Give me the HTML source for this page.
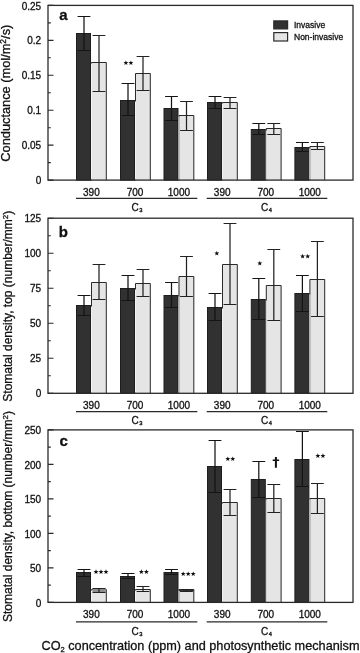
<!DOCTYPE html>
<html><head><meta charset="utf-8"><style>
html,body{margin:0;padding:0;background:#fff;}
svg{display:block;font-family:"Liberation Sans", sans-serif;will-change:transform;}
text{fill:#111;stroke:#111;stroke-width:0.3px;}
</style></head><body>
<svg width="360" height="653" viewBox="0 0 360 653">
<rect width="360" height="653" fill="#fff"/>
<rect x="91.00" y="62.00" width="15.80" height="118.10" fill="#e5e5e5"/>
<path d="M91.50 180.10V62.50H106.30V180.10" fill="none" stroke="#2a2a2a" stroke-width="1"/>
<rect x="76.50" y="33.50" width="14" height="146.60" fill="#313131" stroke="#1e1e1e" stroke-width="1"/>
<rect x="91.00" y="63.50" width="1" height="116.10" fill="#f2f2f2"/>
<path d="M84.00 16.50V50.50" stroke="#141414" stroke-width="1.25" fill="none"/>
<path d="M77.60 16.50H90.40M77.60 50.50H90.40" stroke="#141414" stroke-width="1" fill="none"/>
<path d="M99.00 35.50V91.50" stroke="#222" stroke-width="1.25" fill="none"/>
<path d="M92.60 35.50H105.40M92.60 91.50H105.40" stroke="#222" stroke-width="1" fill="none"/>
<rect x="135.00" y="73.00" width="15.80" height="107.10" fill="#e5e5e5"/>
<path d="M135.50 180.10V73.50H150.30V180.10" fill="none" stroke="#2a2a2a" stroke-width="1"/>
<rect x="120.50" y="100.50" width="14" height="79.60" fill="#313131" stroke="#1e1e1e" stroke-width="1"/>
<rect x="135.00" y="101.50" width="1" height="78.10" fill="#f2f2f2"/>
<path d="M128.00 83.50V115.50" stroke="#141414" stroke-width="1.25" fill="none"/>
<path d="M121.60 83.50H134.40M121.60 115.50H134.40" stroke="#141414" stroke-width="1" fill="none"/>
<path d="M143.00 56.50V90.50" stroke="#222" stroke-width="1.25" fill="none"/>
<path d="M136.60 56.50H149.40M136.60 90.50H149.40" stroke="#222" stroke-width="1" fill="none"/>
<rect x="178.50" y="115.00" width="15.80" height="65.10" fill="#e5e5e5"/>
<path d="M179.00 180.10V115.50H193.80V180.10" fill="none" stroke="#2a2a2a" stroke-width="1"/>
<rect x="164.00" y="108.50" width="14" height="71.60" fill="#313131" stroke="#1e1e1e" stroke-width="1"/>
<rect x="178.50" y="116.50" width="1" height="63.10" fill="#f2f2f2"/>
<path d="M171.50 96.50V120.50" stroke="#141414" stroke-width="1.25" fill="none"/>
<path d="M165.10 96.50H177.90M165.10 120.50H177.90" stroke="#141414" stroke-width="1" fill="none"/>
<path d="M186.50 101.50V130.50" stroke="#222" stroke-width="1.25" fill="none"/>
<path d="M180.10 101.50H192.90M180.10 130.50H192.90" stroke="#222" stroke-width="1" fill="none"/>
<rect x="222.00" y="102.00" width="15.80" height="78.10" fill="#e5e5e5"/>
<path d="M222.50 180.10V102.50H237.30V180.10" fill="none" stroke="#2a2a2a" stroke-width="1"/>
<rect x="207.50" y="102.50" width="14" height="77.60" fill="#313131" stroke="#1e1e1e" stroke-width="1"/>
<rect x="222.00" y="103.50" width="1" height="76.10" fill="#f2f2f2"/>
<path d="M215.00 96.50V108.50" stroke="#141414" stroke-width="1.25" fill="none"/>
<path d="M208.60 96.50H221.40M208.60 108.50H221.40" stroke="#141414" stroke-width="1" fill="none"/>
<path d="M230.00 97.50V108.50" stroke="#222" stroke-width="1.25" fill="none"/>
<path d="M223.60 97.50H236.40M223.60 108.50H236.40" stroke="#222" stroke-width="1" fill="none"/>
<rect x="265.80" y="128.00" width="15.80" height="52.10" fill="#e5e5e5"/>
<path d="M266.30 180.10V128.50H281.10V180.10" fill="none" stroke="#2a2a2a" stroke-width="1"/>
<rect x="251.30" y="129.50" width="14" height="50.60" fill="#313131" stroke="#1e1e1e" stroke-width="1"/>
<rect x="265.80" y="130.50" width="1" height="49.10" fill="#f2f2f2"/>
<path d="M258.80 123.50V134.50" stroke="#141414" stroke-width="1.25" fill="none"/>
<path d="M252.40 123.50H265.20M252.40 134.50H265.20" stroke="#141414" stroke-width="1" fill="none"/>
<path d="M273.80 123.50V134.50" stroke="#222" stroke-width="1.25" fill="none"/>
<path d="M267.40 123.50H280.20M267.40 134.50H280.20" stroke="#222" stroke-width="1" fill="none"/>
<rect x="309.40" y="146.00" width="15.80" height="34.10" fill="#e5e5e5"/>
<path d="M309.90 180.10V146.50H324.70V180.10" fill="none" stroke="#2a2a2a" stroke-width="1"/>
<rect x="294.90" y="147.50" width="14" height="32.60" fill="#313131" stroke="#1e1e1e" stroke-width="1"/>
<rect x="309.40" y="148.50" width="1" height="31.10" fill="#f2f2f2"/>
<path d="M302.40 142.50V151.50" stroke="#141414" stroke-width="1.25" fill="none"/>
<path d="M296.00 142.50H308.80M296.00 151.50H308.80" stroke="#141414" stroke-width="1" fill="none"/>
<path d="M317.40 142.50V149.50" stroke="#222" stroke-width="1.25" fill="none"/>
<path d="M311.00 142.50H323.80M311.00 149.50H323.80" stroke="#222" stroke-width="1" fill="none"/>
<rect x="48.00" y="5.40" width="305.00" height="174.70" fill="none" stroke="#2a2a2a" stroke-width="1.3"/>
<path d="M48.00 180.10H53.50M48.00 162.63H50.80M48.00 145.16H53.50M48.00 127.69H50.80M48.00 110.22H53.50M48.00 92.75H50.80M48.00 75.28H53.50M48.00 57.81H50.80M48.00 40.34H53.50M48.00 22.87H50.80M48.00 5.40H53.50" stroke="#2a2a2a" stroke-width="1.1"/>
<text x="41.20" y="184.20" font-size="10" text-anchor="end" font-weight="normal" >0</text>
<text x="41.20" y="149.26" font-size="10" text-anchor="end" font-weight="normal" >0.05</text>
<text x="41.20" y="114.32" font-size="10" text-anchor="end" font-weight="normal" >0.1</text>
<text x="41.20" y="79.38" font-size="10" text-anchor="end" font-weight="normal" >0.15</text>
<text x="41.20" y="44.44" font-size="10" text-anchor="end" font-weight="normal" >0.2</text>
<text x="41.20" y="9.50" font-size="10" text-anchor="end" font-weight="normal" >0.25</text>
<text x="91.40" y="195.80" font-size="10" text-anchor="middle" font-weight="normal" >390</text>
<text x="135.00" y="195.80" font-size="10" text-anchor="middle" font-weight="normal" >700</text>
<text x="178.90" y="195.80" font-size="10" text-anchor="middle" font-weight="normal" >1000</text>
<text x="222.20" y="195.80" font-size="10" text-anchor="middle" font-weight="normal" >390</text>
<text x="265.80" y="195.80" font-size="10" text-anchor="middle" font-weight="normal" >700</text>
<text x="309.80" y="195.80" font-size="10" text-anchor="middle" font-weight="normal" >1000</text>
<path d="M76 198.40H197.3M206.7 198.40H327.3" stroke="#2a2a2a" stroke-width="1.2"/>
<text x="137.00" y="210.70" font-size="10" text-anchor="middle">C<tspan font-size="5.8" dy="1.2" dx="0.5">3</tspan></text>
<text x="266.60" y="210.70" font-size="10" text-anchor="middle">C<tspan font-size="5.8" dy="1.2" dx="0.5">4</tspan></text>
<rect x="91.00" y="282.00" width="15.80" height="111.30" fill="#e5e5e5"/>
<path d="M91.50 393.30V282.50H106.30V393.30" fill="none" stroke="#2a2a2a" stroke-width="1"/>
<rect x="76.50" y="305.50" width="14" height="87.80" fill="#313131" stroke="#1e1e1e" stroke-width="1"/>
<rect x="91.00" y="306.50" width="1" height="86.30" fill="#f2f2f2"/>
<path d="M84.00 295.50V315.50" stroke="#141414" stroke-width="1.25" fill="none"/>
<path d="M77.60 295.50H90.40M77.60 315.50H90.40" stroke="#141414" stroke-width="1" fill="none"/>
<path d="M99.00 264.50V299.50" stroke="#222" stroke-width="1.25" fill="none"/>
<path d="M92.60 264.50H105.40M92.60 299.50H105.40" stroke="#222" stroke-width="1" fill="none"/>
<rect x="135.00" y="283.00" width="15.80" height="110.30" fill="#e5e5e5"/>
<path d="M135.50 393.30V283.50H150.30V393.30" fill="none" stroke="#2a2a2a" stroke-width="1"/>
<rect x="120.50" y="288.50" width="14" height="104.80" fill="#313131" stroke="#1e1e1e" stroke-width="1"/>
<rect x="135.00" y="289.50" width="1" height="103.30" fill="#f2f2f2"/>
<path d="M128.00 275.50V300.50" stroke="#141414" stroke-width="1.25" fill="none"/>
<path d="M121.60 275.50H134.40M121.60 300.50H134.40" stroke="#141414" stroke-width="1" fill="none"/>
<path d="M143.00 269.50V296.50" stroke="#222" stroke-width="1.25" fill="none"/>
<path d="M136.60 269.50H149.40M136.60 296.50H149.40" stroke="#222" stroke-width="1" fill="none"/>
<rect x="178.50" y="276.00" width="15.80" height="117.30" fill="#e5e5e5"/>
<path d="M179.00 393.30V276.50H193.80V393.30" fill="none" stroke="#2a2a2a" stroke-width="1"/>
<rect x="164.00" y="295.50" width="14" height="97.80" fill="#313131" stroke="#1e1e1e" stroke-width="1"/>
<rect x="178.50" y="296.50" width="1" height="96.30" fill="#f2f2f2"/>
<path d="M171.50 282.50V307.50" stroke="#141414" stroke-width="1.25" fill="none"/>
<path d="M165.10 282.50H177.90M165.10 307.50H177.90" stroke="#141414" stroke-width="1" fill="none"/>
<path d="M186.50 256.50V296.50" stroke="#222" stroke-width="1.25" fill="none"/>
<path d="M180.10 256.50H192.90M180.10 296.50H192.90" stroke="#222" stroke-width="1" fill="none"/>
<rect x="222.00" y="264.00" width="15.80" height="129.30" fill="#e5e5e5"/>
<path d="M222.50 393.30V264.50H237.30V393.30" fill="none" stroke="#2a2a2a" stroke-width="1"/>
<rect x="207.50" y="307.50" width="14" height="85.80" fill="#313131" stroke="#1e1e1e" stroke-width="1"/>
<rect x="222.00" y="308.50" width="1" height="84.30" fill="#f2f2f2"/>
<path d="M215.00 293.50V320.50" stroke="#141414" stroke-width="1.25" fill="none"/>
<path d="M208.60 293.50H221.40M208.60 320.50H221.40" stroke="#141414" stroke-width="1" fill="none"/>
<path d="M230.00 223.50V304.50" stroke="#222" stroke-width="1.25" fill="none"/>
<path d="M223.60 223.50H236.40M223.60 304.50H236.40" stroke="#222" stroke-width="1" fill="none"/>
<rect x="265.80" y="285.00" width="15.80" height="108.30" fill="#e5e5e5"/>
<path d="M266.30 393.30V285.50H281.10V393.30" fill="none" stroke="#2a2a2a" stroke-width="1"/>
<rect x="251.30" y="299.50" width="14" height="93.80" fill="#313131" stroke="#1e1e1e" stroke-width="1"/>
<rect x="265.80" y="300.50" width="1" height="92.30" fill="#f2f2f2"/>
<path d="M258.80 278.50V319.50" stroke="#141414" stroke-width="1.25" fill="none"/>
<path d="M252.40 278.50H265.20M252.40 319.50H265.20" stroke="#141414" stroke-width="1" fill="none"/>
<path d="M273.80 249.50V320.50" stroke="#222" stroke-width="1.25" fill="none"/>
<path d="M267.40 249.50H280.20M267.40 320.50H280.20" stroke="#222" stroke-width="1" fill="none"/>
<rect x="309.40" y="279.00" width="15.80" height="114.30" fill="#e5e5e5"/>
<path d="M309.90 393.30V279.50H324.70V393.30" fill="none" stroke="#2a2a2a" stroke-width="1"/>
<rect x="294.90" y="293.50" width="14" height="99.80" fill="#313131" stroke="#1e1e1e" stroke-width="1"/>
<rect x="309.40" y="294.50" width="1" height="98.30" fill="#f2f2f2"/>
<path d="M302.40 275.50V311.50" stroke="#141414" stroke-width="1.25" fill="none"/>
<path d="M296.00 275.50H308.80M296.00 311.50H308.80" stroke="#141414" stroke-width="1" fill="none"/>
<path d="M317.40 241.50V316.50" stroke="#222" stroke-width="1.25" fill="none"/>
<path d="M311.00 241.50H323.80M311.00 316.50H323.80" stroke="#222" stroke-width="1" fill="none"/>
<rect x="48.00" y="218.20" width="305.00" height="175.10" fill="none" stroke="#2a2a2a" stroke-width="1.3"/>
<path d="M48.00 393.30H53.50M48.00 375.79H50.80M48.00 358.28H53.50M48.00 340.77H50.80M48.00 323.26H53.50M48.00 305.75H50.80M48.00 288.24H53.50M48.00 270.73H50.80M48.00 253.22H53.50M48.00 235.71H50.80M48.00 218.20H53.50" stroke="#2a2a2a" stroke-width="1.1"/>
<text x="41.20" y="397.40" font-size="10" text-anchor="end" font-weight="normal" >0</text>
<text x="41.20" y="362.38" font-size="10" text-anchor="end" font-weight="normal" >25</text>
<text x="41.20" y="327.36" font-size="10" text-anchor="end" font-weight="normal" >50</text>
<text x="41.20" y="292.34" font-size="10" text-anchor="end" font-weight="normal" >75</text>
<text x="41.20" y="257.32" font-size="10" text-anchor="end" font-weight="normal" >100</text>
<text x="41.20" y="222.30" font-size="10" text-anchor="end" font-weight="normal" >125</text>
<text x="91.40" y="408.70" font-size="10" text-anchor="middle" font-weight="normal" >390</text>
<text x="135.00" y="408.70" font-size="10" text-anchor="middle" font-weight="normal" >700</text>
<text x="178.90" y="408.70" font-size="10" text-anchor="middle" font-weight="normal" >1000</text>
<text x="222.20" y="408.70" font-size="10" text-anchor="middle" font-weight="normal" >390</text>
<text x="265.80" y="408.70" font-size="10" text-anchor="middle" font-weight="normal" >700</text>
<text x="309.80" y="408.70" font-size="10" text-anchor="middle" font-weight="normal" >1000</text>
<path d="M76 411.60H197.3M206.7 411.60H327.3" stroke="#2a2a2a" stroke-width="1.2"/>
<text x="137.00" y="424.20" font-size="10" text-anchor="middle">C<tspan font-size="5.8" dy="1.2" dx="0.5">3</tspan></text>
<text x="266.60" y="424.20" font-size="10" text-anchor="middle">C<tspan font-size="5.8" dy="1.2" dx="0.5">4</tspan></text>
<rect x="91.00" y="589.00" width="15.80" height="13.40" fill="#e5e5e5"/>
<path d="M91.50 602.40V589.50H106.30V602.40" fill="none" stroke="#2a2a2a" stroke-width="1"/>
<rect x="76.50" y="572.50" width="14" height="29.90" fill="#313131" stroke="#1e1e1e" stroke-width="1"/>
<rect x="91.00" y="590.50" width="1" height="11.40" fill="#f2f2f2"/>
<rect x="92.50" y="588.1" width="13.30" height="4.6" fill="#8c8c8c"/>
<path d="M84.00 569.50V576.50" stroke="#141414" stroke-width="1.25" fill="none"/>
<path d="M77.60 569.50H90.40M77.60 576.50H90.40" stroke="#141414" stroke-width="1" fill="none"/>
<path d="M99.00 588.50V592.50" stroke="#222" stroke-width="1.25" fill="none"/>
<path d="M92.60 588.50H105.40M92.60 592.50H105.40" stroke="#222" stroke-width="1" fill="none"/>
<rect x="135.00" y="589.00" width="15.80" height="13.40" fill="#e5e5e5"/>
<path d="M135.50 602.40V589.50H150.30V602.40" fill="none" stroke="#2a2a2a" stroke-width="1"/>
<rect x="120.50" y="576.50" width="14" height="25.90" fill="#313131" stroke="#1e1e1e" stroke-width="1"/>
<rect x="135.00" y="590.50" width="1" height="11.40" fill="#f2f2f2"/>
<path d="M128.00 573.50V578.50" stroke="#141414" stroke-width="1.25" fill="none"/>
<path d="M121.60 573.50H134.40M121.60 578.50H134.40" stroke="#141414" stroke-width="1" fill="none"/>
<path d="M143.00 586.50V591.50" stroke="#222" stroke-width="1.25" fill="none"/>
<path d="M136.60 586.50H149.40M136.60 591.50H149.40" stroke="#222" stroke-width="1" fill="none"/>
<rect x="178.50" y="589.00" width="15.80" height="13.40" fill="#e5e5e5"/>
<path d="M179.00 602.40V589.50H193.80V602.40" fill="none" stroke="#2a2a2a" stroke-width="1"/>
<rect x="164.00" y="572.50" width="14" height="29.90" fill="#313131" stroke="#1e1e1e" stroke-width="1"/>
<rect x="178.50" y="590.50" width="1" height="11.40" fill="#f2f2f2"/>
<rect x="179.00" y="589.3" width="14.80" height="1.8" fill="#333"/>
<path d="M171.50 569.50V574.50" stroke="#141414" stroke-width="1.25" fill="none"/>
<path d="M165.10 569.50H177.90M165.10 574.50H177.90" stroke="#141414" stroke-width="1" fill="none"/>
<path d="M186.50 589.50V591.50" stroke="#222" stroke-width="1.25" fill="none"/>
<path d="M180.10 589.50H192.90M180.10 591.50H192.90" stroke="#222" stroke-width="1" fill="none"/>
<rect x="222.00" y="502.00" width="15.80" height="100.40" fill="#e5e5e5"/>
<path d="M222.50 602.40V502.50H237.30V602.40" fill="none" stroke="#2a2a2a" stroke-width="1"/>
<rect x="207.50" y="466.50" width="14" height="135.90" fill="#313131" stroke="#1e1e1e" stroke-width="1"/>
<rect x="222.00" y="503.50" width="1" height="98.40" fill="#f2f2f2"/>
<path d="M215.00 440.50V492.50" stroke="#141414" stroke-width="1.25" fill="none"/>
<path d="M208.60 440.50H221.40M208.60 492.50H221.40" stroke="#141414" stroke-width="1" fill="none"/>
<path d="M230.00 489.50V515.50" stroke="#222" stroke-width="1.25" fill="none"/>
<path d="M223.60 489.50H236.40M223.60 515.50H236.40" stroke="#222" stroke-width="1" fill="none"/>
<rect x="265.80" y="498.00" width="15.80" height="104.40" fill="#e5e5e5"/>
<path d="M266.30 602.40V498.50H281.10V602.40" fill="none" stroke="#2a2a2a" stroke-width="1"/>
<rect x="251.30" y="479.50" width="14" height="122.90" fill="#313131" stroke="#1e1e1e" stroke-width="1"/>
<rect x="265.80" y="499.50" width="1" height="102.40" fill="#f2f2f2"/>
<path d="M258.80 461.50V497.50" stroke="#141414" stroke-width="1.25" fill="none"/>
<path d="M252.40 461.50H265.20M252.40 497.50H265.20" stroke="#141414" stroke-width="1" fill="none"/>
<path d="M273.80 484.50V512.50" stroke="#222" stroke-width="1.25" fill="none"/>
<path d="M267.40 484.50H280.20M267.40 512.50H280.20" stroke="#222" stroke-width="1" fill="none"/>
<rect x="309.40" y="498.00" width="15.80" height="104.40" fill="#e5e5e5"/>
<path d="M309.90 602.40V498.50H324.70V602.40" fill="none" stroke="#2a2a2a" stroke-width="1"/>
<rect x="294.90" y="459.50" width="14" height="142.90" fill="#313131" stroke="#1e1e1e" stroke-width="1"/>
<rect x="309.40" y="499.50" width="1" height="102.40" fill="#f2f2f2"/>
<path d="M302.40 431.50V486.50" stroke="#141414" stroke-width="1.25" fill="none"/>
<path d="M296.00 431.50H308.80M296.00 486.50H308.80" stroke="#141414" stroke-width="1" fill="none"/>
<path d="M317.40 483.50V513.50" stroke="#222" stroke-width="1.25" fill="none"/>
<path d="M311.00 483.50H323.80M311.00 513.50H323.80" stroke="#222" stroke-width="1" fill="none"/>
<rect x="48.00" y="429.90" width="305.00" height="172.50" fill="none" stroke="#2a2a2a" stroke-width="1.3"/>
<path d="M48.00 602.40H53.50M48.00 585.15H50.80M48.00 567.90H53.50M48.00 550.65H50.80M48.00 533.40H53.50M48.00 516.15H50.80M48.00 498.90H53.50M48.00 481.65H50.80M48.00 464.40H53.50M48.00 447.15H50.80M48.00 429.90H53.50" stroke="#2a2a2a" stroke-width="1.1"/>
<text x="41.20" y="606.50" font-size="10" text-anchor="end" font-weight="normal" >0</text>
<text x="41.20" y="572.00" font-size="10" text-anchor="end" font-weight="normal" >50</text>
<text x="41.20" y="537.50" font-size="10" text-anchor="end" font-weight="normal" >100</text>
<text x="41.20" y="503.00" font-size="10" text-anchor="end" font-weight="normal" >150</text>
<text x="41.20" y="468.50" font-size="10" text-anchor="end" font-weight="normal" >200</text>
<text x="41.20" y="434.00" font-size="10" text-anchor="end" font-weight="normal" >250</text>
<text x="91.40" y="618.40" font-size="10" text-anchor="middle" font-weight="normal" >390</text>
<text x="135.00" y="618.40" font-size="10" text-anchor="middle" font-weight="normal" >700</text>
<text x="178.90" y="618.40" font-size="10" text-anchor="middle" font-weight="normal" >1000</text>
<text x="222.20" y="618.40" font-size="10" text-anchor="middle" font-weight="normal" >390</text>
<text x="265.80" y="618.40" font-size="10" text-anchor="middle" font-weight="normal" >700</text>
<text x="309.80" y="618.40" font-size="10" text-anchor="middle" font-weight="normal" >1000</text>
<path d="M76 621.95H197.3M206.7 621.95H327.3" stroke="#2a2a2a" stroke-width="1.2"/>
<text x="137.00" y="634.70" font-size="10" text-anchor="middle">C<tspan font-size="5.8" dy="1.2" dx="0.5">3</tspan></text>
<text x="266.60" y="634.70" font-size="10" text-anchor="middle">C<tspan font-size="5.8" dy="1.2" dx="0.5">4</tspan></text>
<text x="59.30" y="19.80" font-size="15" text-anchor="start" font-weight="bold" >a</text>
<text x="58.80" y="236.80" font-size="15" text-anchor="start" font-weight="bold" >b</text>
<text x="59.60" y="445.80" font-size="15" text-anchor="start" font-weight="bold" >c</text>
<rect x="273.8" y="20.9" width="13.8" height="8" fill="#313131" stroke="#2a2a2a" stroke-width="1.2"/>
<rect x="273.8" y="32.6" width="13.8" height="8.4" fill="#e5e5e5" stroke="#2a2a2a" stroke-width="1.2"/>
<text x="294.00" y="27.90" font-size="8.5" text-anchor="start" font-weight="normal" >Invasive</text>
<text x="294.00" y="39.70" font-size="8.5" text-anchor="start" font-weight="normal" >Non-invasive</text>
<path d="M125.90,60.40L126.55,62.11L128.37,62.20L126.95,63.34L127.43,65.10L125.90,64.10L124.37,65.10L124.85,63.34L123.43,62.20L125.25,62.11ZM130.90,60.40L131.55,62.11L133.37,62.20L131.95,63.34L132.43,65.10L130.90,64.10L129.37,65.10L129.85,63.34L128.43,62.20L130.25,62.11ZM216.80,250.70L217.45,252.41L219.27,252.50L217.85,253.64L218.33,255.40L216.80,254.40L215.27,255.40L215.75,253.64L214.33,252.50L216.15,252.41ZM259.80,260.70L260.45,262.41L262.27,262.50L260.85,263.64L261.33,265.40L259.80,264.40L258.27,265.40L258.75,263.64L257.33,262.50L259.15,262.41ZM302.60,253.80L303.25,255.51L305.07,255.60L303.65,256.74L304.13,258.50L302.60,257.50L301.07,258.50L301.55,256.74L300.13,255.60L301.95,255.51ZM307.70,253.80L308.35,255.51L310.17,255.60L308.75,256.74L309.23,258.50L307.70,257.50L306.17,258.50L306.65,256.74L305.23,255.60L307.05,255.51ZM96.00,569.30L96.65,571.01L98.47,571.10L97.05,572.24L97.53,574.00L96.00,573.00L94.47,574.00L94.95,572.24L93.53,571.10L95.35,571.01ZM101.00,569.30L101.65,571.01L103.47,571.10L102.05,572.24L102.53,574.00L101.00,573.00L99.47,574.00L99.95,572.24L98.53,571.10L100.35,571.01ZM106.00,569.30L106.65,571.01L108.47,571.10L107.05,572.24L107.53,574.00L106.00,573.00L104.47,574.00L104.95,572.24L103.53,571.10L105.35,571.01ZM141.35,569.30L142.00,571.01L143.82,571.10L142.40,572.24L142.88,574.00L141.35,573.00L139.82,574.00L140.30,572.24L138.88,571.10L140.70,571.01ZM146.40,569.30L147.05,571.01L148.87,571.10L147.45,572.24L147.93,574.00L146.40,573.00L144.87,574.00L145.35,572.24L143.93,571.10L145.75,571.01ZM183.20,571.40L183.85,573.11L185.67,573.20L184.25,574.34L184.73,576.10L183.20,575.10L181.67,576.10L182.15,574.34L180.73,573.20L182.55,573.11ZM188.20,571.40L188.85,573.11L190.67,573.20L189.25,574.34L189.73,576.10L188.20,575.10L186.67,576.10L187.15,574.34L185.73,573.20L187.55,573.11ZM193.20,571.40L193.85,573.11L195.67,573.20L194.25,574.34L194.73,576.10L193.20,575.10L191.67,576.10L192.15,574.34L190.73,573.20L192.55,573.11ZM227.80,456.40L228.45,458.11L230.27,458.20L228.85,459.34L229.33,461.10L227.80,460.10L226.27,461.10L226.75,459.34L225.33,458.20L227.15,458.11ZM232.75,456.40L233.40,458.11L235.22,458.20L233.80,459.34L234.28,461.10L232.75,460.10L231.22,461.10L231.70,459.34L230.28,458.20L232.10,458.11ZM317.85,453.20L318.50,454.91L320.32,455.00L318.90,456.14L319.38,457.90L317.85,456.90L316.32,457.90L316.80,456.14L315.38,455.00L317.20,454.91ZM322.95,453.20L323.60,454.91L325.42,455.00L324.00,456.14L324.48,457.90L322.95,456.90L321.42,457.90L321.90,456.14L320.48,455.00L322.30,454.91Z" fill="#111"/>
<path d="M274.9 457H276.9V467.8H274.9ZM272.7 459.5H279.1V461H272.7Z" fill="#111"/>
<text transform="translate(9.90,93.20) rotate(-90)" font-size="12.8" text-anchor="middle">Conductance (mol/m<tspan font-size="8.5" dy="-4.3">2</tspan><tspan dy="4.3">/s)</tspan></text>
<text transform="translate(12.20,306.20) rotate(-90)" font-size="12" text-anchor="middle">Stomatal density, top (number/mm<tspan font-size="8" dy="-4">2</tspan><tspan dy="4">)</tspan></text>
<text transform="translate(12.20,516.50) rotate(-90)" font-size="12" text-anchor="middle">Stomatal density, bottom (number/mm<tspan font-size="8" dy="-4">2</tspan><tspan dy="4">)</tspan></text>
<text x="41.5" y="650.2" font-size="12.7">CO<tspan font-size="7.5" dy="1.5">2</tspan><tspan dy="-1.5"> concentration (ppm) and photosynthetic mechanism</tspan></text>
</svg></body></html>
